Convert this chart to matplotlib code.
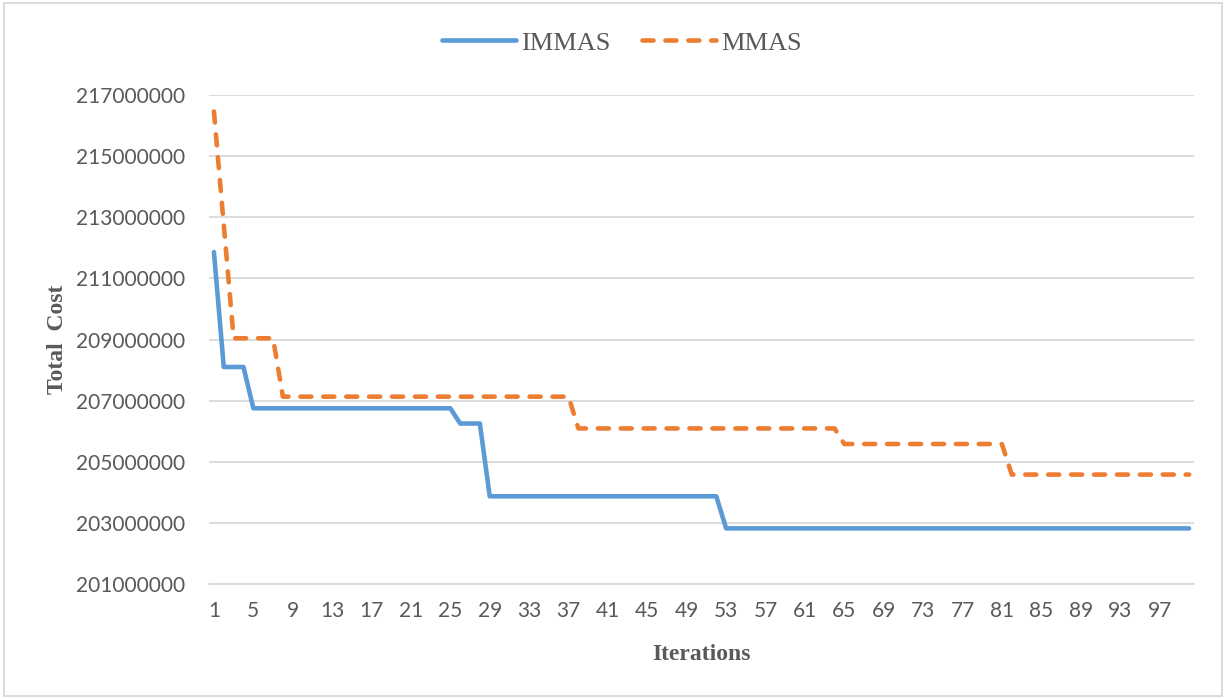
import numpy as np
import matplotlib
matplotlib.use("Agg")
import matplotlib.pyplot as plt
from matplotlib.patches import Rectangle

# step data: first iteration of each level and its value
iterations = np.arange(1, 101)

immas_start = [1, 2, 5, 26, 29, 53]
immas_level = [211860000, 208100000, 206750000, 206250000, 203870000, 202820000]

mmas_start = [1, 2, 3, 8, 38, 65, 82]
mmas_level = [216460000, 212750000, 209040000, 207130000, 206090000, 205580000, 204580000]

y_ticks = [201000000, 203000000, 205000000, 207000000, 209000000,
           211000000, 213000000, 215000000, 217000000]
x_tick_labels = list(range(1, 101, 4))


def expand(starts, levels, n=100):
    counts = np.diff(starts + [n + 1])
    return np.repeat(levels, counts)


immas = expand(immas_start, immas_level)
mmas = expand(mmas_start, mmas_level)

fig = plt.figure(figsize=(12.26, 6.99), dpi=100)
ax = fig.add_axes([209 / 1226, 1 - 584 / 699, (1194 - 209) / 1226, (584 - 95) / 699])

ax.plot(iterations, immas, color='#5B9BD5', lw=3.3, solid_capstyle='round',
        solid_joinstyle='round', label='IMMAS', zorder=3)
ax.plot(iterations, mmas, color='#ED7D31', lw=3.3, dashes=(2.4, 2.6),
        dash_capstyle='round', dash_joinstyle='round', label='MMAS', zorder=3)

ax.set_xlim(0.5, 100.5)
ax.set_ylim(201000000, 217000000)
ax.set_yticks(y_ticks)
ax.set_yticklabels([str(v) for v in y_ticks])
ax.set_xticks(x_tick_labels)
ax.set_xticklabels([str(v) for v in x_tick_labels])

ax.grid(axis='y', color='#D9D9D9', lw=1.3, zorder=0)
for s in ['top', 'right', 'left']:
    ax.spines[s].set_visible(False)
ax.spines['bottom'].set_color('#D9D9D9')
ax.spines['bottom'].set_linewidth(1.3)

ax.tick_params(axis='both', length=0, labelcolor='#595959', labelsize=15)
ax.tick_params(axis='y', pad=17)
ax.tick_params(axis='x', pad=12)
for lab in ax.get_xticklabels() + ax.get_yticklabels():
    lab.set_family('Lato')

ax.set_xlabel('Iterations', family='Liberation Serif', fontweight='bold',
              fontsize=17, color='#595959', labelpad=17)
ax.set_ylabel('Total  Cost', family='Liberation Serif', fontweight='bold',
              fontsize=17, color='#595959', labelpad=6)

leg = ax.legend(loc='center', bbox_to_anchor=(622 / 1226, 1 - 43 / 699),
                bbox_transform=fig.transFigure, ncol=2, frameon=False,
                prop={'family': 'Liberation Serif', 'size': 19},
                handlelength=2.8, handletextpad=0.2, columnspacing=1.2)
for t in leg.get_texts():
    t.set_color('#595959')

fig.patches.append(Rectangle((4 / 1226, 3 / 699), 1 - 8 / 1226, 1 - 6 / 699,
                             transform=fig.transFigure, fill=False,
                             edgecolor='#D9D9D9', lw=1.3))

fig.savefig('out.png', dpi=100)
